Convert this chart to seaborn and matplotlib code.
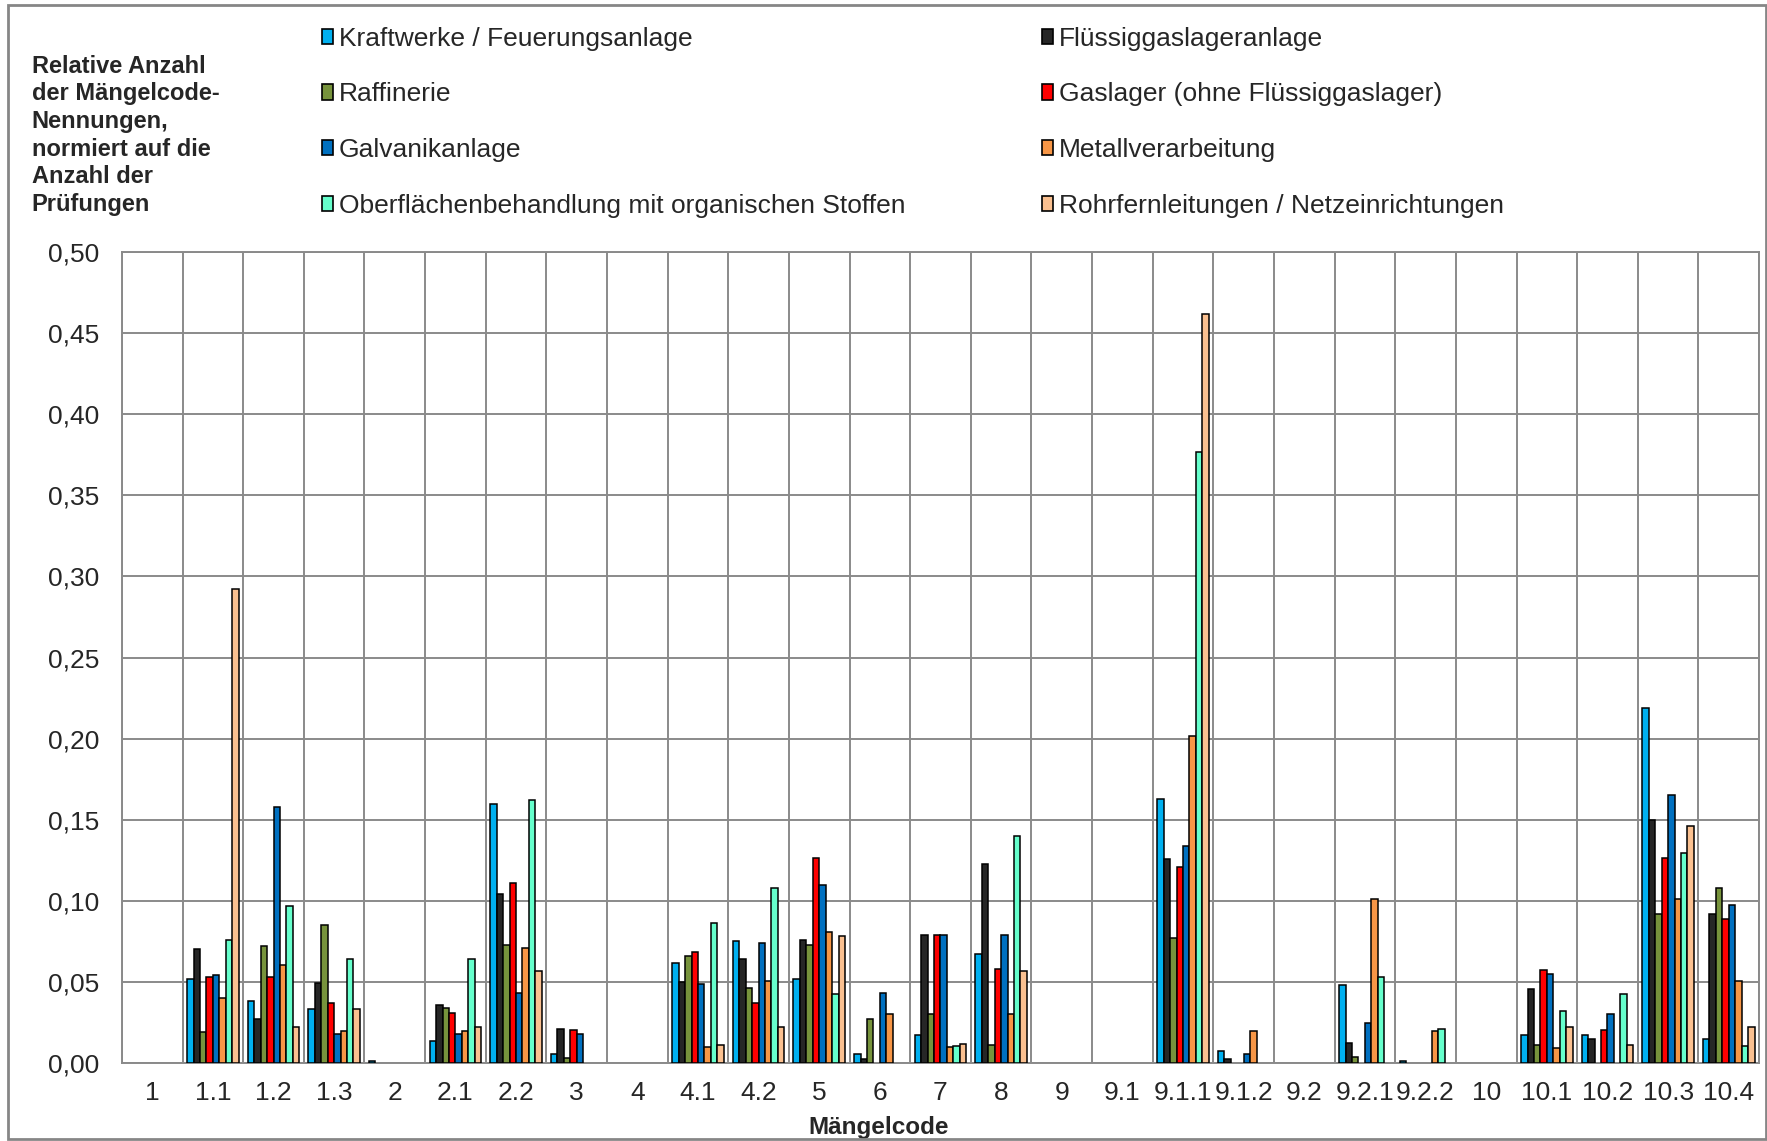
import numpy as np
import pandas as pd
import matplotlib
matplotlib.use("Agg")
import matplotlib.pyplot as plt
from matplotlib.patches import Patch, Rectangle
import seaborn as sns

codes = ["1", "1.1", "1.2", "1.3", "2", "2.1", "2.2", "3", "4", "4.1", "4.2", "5",
         "6", "7", "8", "9", "9.1", "9.1.1", "9.1.2", "9.2", "9.2.1", "9.2.2", "10",
         "10.1", "10.2", "10.3", "10.4"]

series_names = [
    "Kraftwerke / Feuerungsanlage",
    "Flüssiggaslageranlage",
    "Raffinerie",
    "Gaslager (ohne Flüssiggaslager)",
    "Galvanikanlage",
    "Metallverarbeitung",
    "Oberflächenbehandlung mit organischen Stoffen",
    "Rohrfernleitungen / Netzeinrichtungen",
]

kraftwerke = [0, 0.052, 0.038, 0.033, 0.0015, 0.0135, 0.160, 0.0055, 0, 0.0615, 0.075, 0.052,
              0.0056, 0.017, 0.067, 0, 0, 0.163, 0.0075, 0, 0.048, 0.0015, 0,
              0.017, 0.017, 0.219, 0.015]
fluessiggas = [0, 0.070, 0.027, 0.049, 0, 0.036, 0.104, 0.021, 0, 0.050, 0.064, 0.076,
               0.0027, 0.079, 0.123, 0, 0, 0.126, 0.0025, 0, 0.012, 0, 0,
               0.0455, 0.015, 0.150, 0.092]
raffinerie = [0, 0.019, 0.072, 0.085, 0, 0.034, 0.073, 0.0033, 0, 0.066, 0.046, 0.073,
              0.027, 0.030, 0.011, 0, 0, 0.077, 0, 0, 0.0036, 0, 0,
              0.011, 0, 0.092, 0.108]
gaslager = [0, 0.053, 0.053, 0.037, 0, 0.031, 0.111, 0.0205, 0, 0.0685, 0.037, 0.1265,
            0, 0.079, 0.058, 0, 0, 0.121, 0, 0, 0, 0, 0,
            0.0575, 0.0205, 0.1265, 0.089]
galvanik = [0, 0.0545, 0.158, 0.018, 0, 0.0176, 0.043, 0.0176, 0, 0.0485, 0.0737, 0.110,
            0.043, 0.079, 0.079, 0, 0, 0.134, 0.0057, 0, 0.0244, 0, 0,
            0.0546, 0.0304, 0.165, 0.0977]
metall = [0, 0.040, 0.0605, 0.020, 0, 0.020, 0.0707, 0, 0, 0.0098, 0.0506, 0.0807,
          0.030, 0.0097, 0.030, 0, 0, 0.2017, 0.0197, 0, 0.101, 0.0196, 0,
          0.0093, 0, 0.101, 0.0506]
oberflaechen = [0, 0.0756, 0.097, 0.064, 0, 0.064, 0.162, 0, 0, 0.0865, 0.108, 0.0428,
                0, 0.0105, 0.140, 0, 0, 0.377, 0, 0, 0.053, 0.021, 0,
                0.0318, 0.0426, 0.1294, 0.0103]
rohrfern = [0, 0.292, 0.022, 0.033, 0, 0.022, 0.0564, 0, 0, 0.0112, 0.022, 0.0785,
            0, 0.0114, 0.0564, 0, 0, 0.4616, 0, 0, 0, 0, 0,
            0.0219, 0.0112, 0.1464, 0.0219]

colors = ["#00B0F0", "#262626", "#77933C", "#FF0000",
          "#0070C0", "#F79646", "#66FFCC", "#FAC090"]

y_ticks = [0.00, 0.05, 0.10, 0.15, 0.20, 0.25, 0.30, 0.35, 0.40, 0.45, 0.50]

all_values = [kraftwerke, fluessiggas, raffinerie, gaslager,
              galvanik, metall, oberflaechen, rohrfern]
rows = []
for name, vals in zip(series_names, all_values):
    for code, v in zip(codes, vals):
        rows.append({"code": code, "series": name, "value": v})
df = pd.DataFrame(rows)
df = df[df["value"] > 0]  # empty cells are not drawn

sns.set_style("white")
plt.rcParams["font.family"] = ["Liberation Sans", "DejaVu Sans"]

fig = plt.figure(figsize=(17.67, 11.41), dpi=100)
ax = fig.add_axes([0.069, 0.0684, 0.9265, 0.7106])

grid_color = "#8a8a8a"

sns.barplot(data=df, x="code", y="value", hue="series", order=codes,
            hue_order=series_names, palette=colors, saturation=1,
            width=0.85, gap=0, edgecolor="black", linewidth=1.1,
            errorbar=None, legend=False, ax=ax, zorder=3)

n = len(codes)
ax.set_xlim(-0.5, n - 0.5)
ax.set_ylim(0, 0.5)

# category boundaries carry the grid and tick marks, centres carry the labels
ax.set_xticks(np.arange(-0.5, n, 1.0))
ax.set_xticklabels([])
ax.set_xticks(np.arange(n), minor=True)
ax.set_xticklabels(codes, minor=True, fontsize=19)
ax.tick_params(axis="x", which="major", length=5, width=1.3, color=grid_color, direction="out")
ax.tick_params(axis="x", which="minor", length=0, pad=13)

ax.set_yticks(y_ticks)
ax.set_yticklabels([f"{v:.2f}".replace(".", ",") for v in y_ticks], fontsize=19)
ax.tick_params(axis="y", length=6, width=1.3, color=grid_color, direction="out", pad=10.5)

ax.grid(True, which="major", axis="both", color=grid_color, linewidth=1.4, zorder=0)
ax.set_axisbelow(True)
for sp in ax.spines.values():
    sp.set_color(grid_color)
    sp.set_linewidth(1.4)

ax.set_xlabel("Mängelcode", fontsize=17.5, fontweight="bold")
ax.xaxis.set_label_coords(0.4625, -0.066)
ax.set_ylabel("")

fig.text(0.018, 0.952,
         "Relative Anzahl\nder Mängelcode-\nNennungen,\nnormiert auf die\nAnzahl der\nPrüfungen",
         fontsize=17, fontweight="bold", ha="left", va="top", linespacing=1.26)

handles = [Patch(facecolor=c, edgecolor="black", linewidth=1.2) for c in colors]
leg_kw = dict(frameon=False, fontsize=19, handlelength=0.42, handleheight=0.53,
              handletextpad=0.2, labelspacing=1.2, borderpad=0, borderaxespad=0)
leg1 = fig.legend([handles[i] for i in (0, 2, 4, 6)],
                  [series_names[i] for i in (0, 2, 4, 6)],
                  loc="upper left", bbox_to_anchor=(0.1824, 0.9766), **leg_kw)
leg2 = fig.legend([handles[i] for i in (1, 3, 5, 7)],
                  [series_names[i] for i in (1, 3, 5, 7)],
                  loc="upper left", bbox_to_anchor=(0.5899, 0.9766), **leg_kw)

fig.patches.append(Rectangle((0.0045, 0.0018), 0.995, 0.9938, transform=fig.transFigure,
                             fill=False, edgecolor="#868686", linewidth=2.0))

fig.savefig("out.png", dpi=100)
